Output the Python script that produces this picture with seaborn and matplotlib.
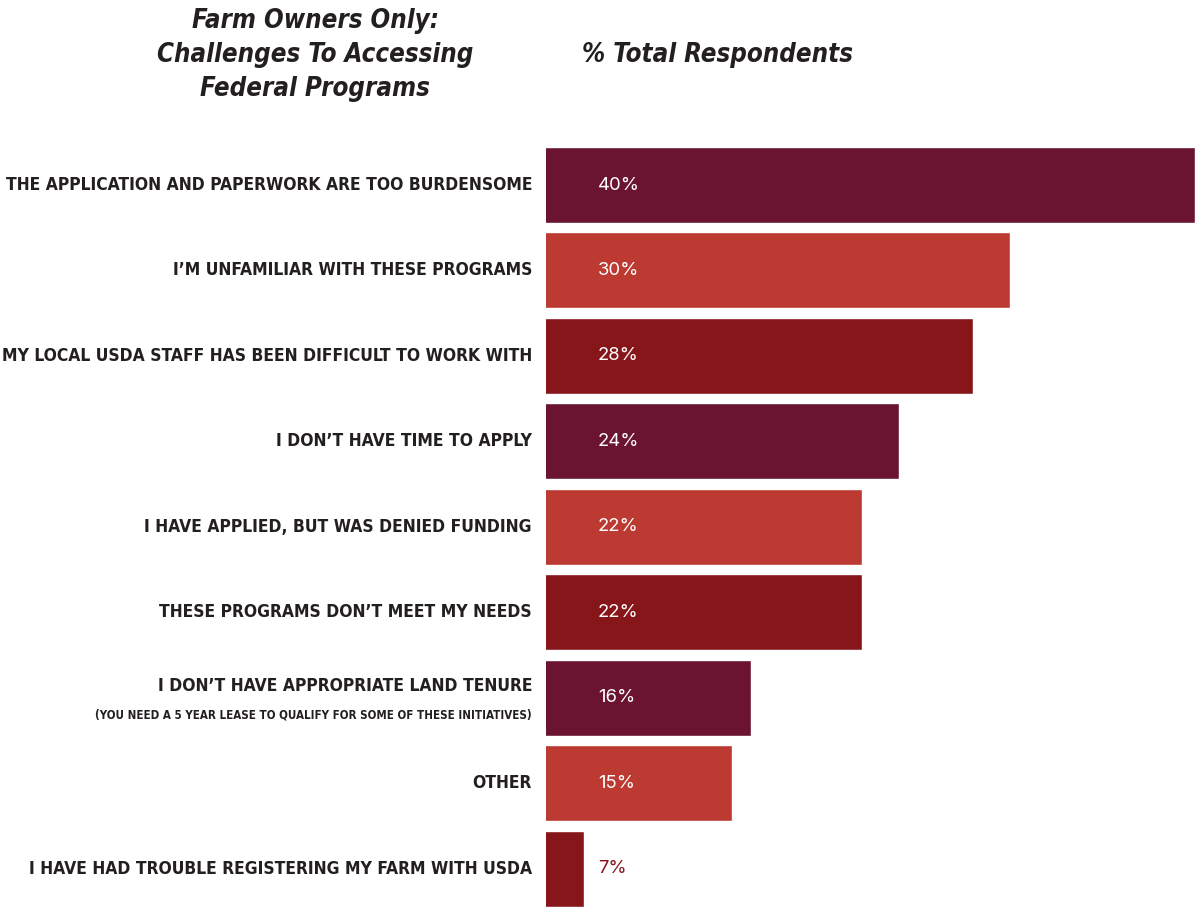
import matplotlib as mpl
mpl.use('Agg')
import matplotlib.pyplot as plt
import matplotlib.transforms as mtransforms
import pandas as pd
import seaborn as sns

categories = [
    "THE APPLICATION AND PAPERWORK ARE TOO BURDENSOME",
    "I\u2019M UNFAMILIAR WITH THESE PROGRAMS",
    "MY LOCAL USDA STAFF HAS BEEN DIFFICULT TO WORK WITH",
    "I DON\u2019T HAVE TIME TO APPLY",
    "I HAVE APPLIED, BUT WAS DENIED FUNDING",
    "THESE PROGRAMS DON\u2019T MEET MY NEEDS",
    "I DON\u2019T HAVE APPROPRIATE LAND TENURE",
    "OTHER",
    "I HAVE HAD TROUBLE REGISTERING MY FARM WITH USDA",
]
values = [40, 30, 28, 24, 22, 22, 16, 15, 7]
value_labels = ["40%", "30%", "28%", "24%", "22%", "22%", "16%", "15%", "7%"]
note = "(YOU NEED A 5 YEAR LEASE TO QUALIFY FOR SOME OF THESE INITIATIVES)"
bar_colors = ["#6b1431", "#bc3a32", "#87161b"] * 3

df = pd.DataFrame({'cat': categories, 'val': values})

sns.set_style('white')
plt.rcParams['font.family'] = ['DejaVu Sans']
cond = dict(fontweight='bold', fontstretch='condensed', color='#231f20')

W, H = 1195, 907
fig = plt.figure(figsize=(W/100, H/100), dpi=100)
top_px, bot_px = 142.3, 907
ax = fig.add_axes([546/W, 1 - bot_px/H, 1 - 546/W, (bot_px - top_px)/H])

sns.barplot(data=df, x='val', y='cat', hue='cat', palette=bar_colors,
            legend=False, width=0.89, ax=ax, saturation=1)

# bars start at about 4.9% on this chart's scale
ax.set_xlim(4.92, 40)
ax.set_ylim(8.45, -0.5)
ax.set_xlabel('')
ax.set_ylabel('')
ax.set_xticks([])
ax.set_yticks([])
sns.despine(ax=ax, left=True, bottom=True)

trans = mtransforms.blended_transform_factory(ax.transAxes, ax.transData)
for i, (v, lab) in enumerate(zip(values, value_labels)):
    col = 'white' if v > 10 else '#87161b'
    ax.text(0.08, i, lab, transform=trans, ha='left', va='center',
            fontsize=13.3, color=col, family='Inter')

lab_x = 532 / W
for i, cat in enumerate(categories):
    y_fig = 1 - (top_px + (i + 0.5) * 85.44) / H
    if i == 6:
        fig.text(lab_x, y_fig + 12/H, cat, ha='right', va='center', fontsize=12.5, **cond)
        fig.text(lab_x, y_fig - 17/H, note, ha='right', va='center', fontsize=8.3, **cond)
    else:
        fig.text(lab_x, y_fig, cat, ha='right', va='center', fontsize=12.5, **cond)

fig.text(315/W, 1 - 55/H, "Farm Owners Only:\nChallenges To Accessing\nFederal Programs",
         ha='center', va='center', fontsize=18.5, fontstyle='italic',
         linespacing=1.4, **cond)
fig.text(718/W, 1 - 55/H, "% Total Respondents", ha='center', va='center',
         fontsize=18.5, fontstyle='italic', **cond)

plt.savefig('out.png', dpi=100)
